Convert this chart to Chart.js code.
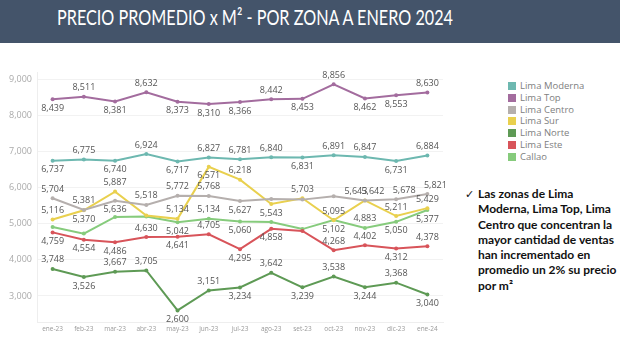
<!DOCTYPE html>
<html>
<head>
<meta charset="utf-8">
<script src="https://cdn.jsdelivr.net/npm/chart.js@4.4.1/dist/chart.umd.min.js"></script>
<style>
  html, body { margin: 0; padding: 0; background: #fff; width: 620px; height: 346px; overflow: hidden; }
  #bar { position: absolute; left: 0; top: 0; width: 620px; height: 43px; background: #44546A; }
  #title { position: absolute; left: 57px; top: 3px; color: #fff; transform-origin: 0 0;
           font-family: Lato, "Open Sans", sans-serif; font-size: 22px; white-space: nowrap; }
  #wrap { position: absolute; left: 0; top: 60px; width: 450px; height: 286px; }
  #legend { position: absolute; left: 508px; top: 80px; font-family: "Open Sans", sans-serif; font-size: 9.5px; color: #808080; }
  .li { height: 11.8px; line-height: 11.8px; white-space: nowrap; }
  .sw { display: inline-block; width: 8px; height: 8px; margin-right: 4px; vertical-align: -1px; }
  #note { position: absolute; left: 465px; top: 186px; width: 155px; font-family: Lato, sans-serif;
          font-weight: bold; font-size: 12px; line-height: 15.3px; color: #111; }
  #note .ck { position: absolute; left: 0; top: 0; font-weight: normal; font-size: 11px; }
  #note .tx { margin-left: 13px; }
</style>
</head>
<body>
<div id="bar"></div>
<div id="title">PRECIO PROMEDIO x M² - POR ZONA A ENERO 2024</div>
<div id="wrap"><canvas id="c"></canvas></div>
<div id="legend"></div>
<div id="note"><span class="ck">✓</span><div class="tx">Las zonas de Lima Moderna, Lima Top, Lima Centro que concentran la mayor cantidad de ventas han incrementado en promedio un 2% su precio por m²</div></div>
<script>
const months = ["ene-23","feb-23","mar-23","abr-23","may-23","jun-23","jul-23","ago-23","set-23","oct-23","nov-23","dic-23","ene-24"];
const yTicks = [3000, 4000, 5000, 6000, 7000, 8000, 9000];

const limaModerna = [6737, 6775, 6740, 6924, 6717, 6827, 6781, 6840, 6831, 6891, 6847, 6731, 6884];
const limaTop     = [8439, 8511, 8381, 8632, 8373, 8310, 8366, 8442, 8453, 8856, 8462, 8553, 8630];
const limaCentro  = [5704, 5381, 5636, 5518, 5772, 5768, 5627, 5680, 5665, 5760, 5643, 5678, 5821];
const limaSur     = [5116, 5370, 5887, 5225, 5134, 6571, 6218, 5543, 5703, 5095, 5642, 5211, 5429];
const limaNorte   = [3748, 3526, 3667, 3705, 2600, 3151, 3234, 3642, 3239, 3538, 3244, 3368, 3040];
const limaEste    = [4759, 4554, 4486, 4630, 4641, 4705, 4295, 4858, 4800, 4268, 4402, 4312, 4378];
const callao      = [4905, 4725, 5185, 5200, 5042, 5134, 5060, 5045, 4850, 5102, 4883, 5050, 5377];

const seriesNames = ["Lima Moderna","Lima Top","Lima Centro","Lima Sur","Lima Norte","Lima Este","Callao"];
const seriesData = [limaModerna, limaTop, limaCentro, limaSur, limaNorte, limaEste, callao];
const seriesColors = ["#6DB8B0","#A36C9E","#B5AFAD","#E9D04E","#5E9A55","#D8545A","#86CB7C"];

// label placement: a = above, b = below, al/ar = above shifted left/right, "" = no label
const labelSides = [
  ["b","a","b","a","b","a","a","a","b","a","a","b","a"],
  ["b","a","b","a","b","b","b","a","b","a","b","b","a"],
  ["a","a","b","a","a","a","b","","","","al","ar","ar"],
  ["a","b","a","","a","b","a","b","a","a","ar","a","a"],
  ["a","b","a","a","b","a","b","a","b","a","b","a","b"],
  ["b","b","b","a","b","a","b","b","","a","a","b","a"],
  ["","","","","b","a","b","","","b","a","b","b"]
];

// fit title to the reference width (condensed look)
(function () {
  const t = document.getElementById('title');
  const w = t.getBoundingClientRect().width;
  t.style.transform = 'scaleX(' + (396 / w) + ')';
})();

// legend
const lg = document.getElementById('legend');
seriesNames.forEach((n, i) => {
  const d = document.createElement('div'); d.className = 'li';
  d.innerHTML = '<span class="sw" style="background:' + seriesColors[i] + '"></span>' + n;
  lg.appendChild(d);
});

const fmt = v => v.toLocaleString('en-US');

const labelPlugin = {
  id: 'pointLabels',
  afterDatasetsDraw(chart) {
    const ctx = chart.ctx;
    ctx.save();
    ctx.font = '9px "Open Sans", sans-serif';
    ctx.fillStyle = '#555';
    ctx.textAlign = 'center';
    ctx.textBaseline = 'middle';
    chart.data.datasets.forEach((ds, di) => {
      const meta = chart.getDatasetMeta(di);
      meta.data.forEach((pt, i) => {
        const side = labelSides[di][i];
        if (!side) return;
        let x = pt.x, y = pt.y;
        if (side[0] === 'a') y -= 9; else y += 9;
        if (side === 'al') x -= 9;
        if (side === 'ar') x += 8;
        ctx.fillText(fmt(ds.data[i]), x, y);
      });
    });
    ctx.restore();
  }
};

new Chart(document.getElementById('c'), {
  type: 'line',
  data: {
    labels: months,
    datasets: seriesNames.map((n, i) => ({
      label: n,
      data: seriesData[i],
      borderColor: seriesColors[i],
      backgroundColor: seriesColors[i],
      borderWidth: 2,
      pointRadius: 2,
      pointBorderWidth: 0,
      tension: 0
    }))
  },
  options: {
    responsive: true,
    maintainAspectRatio: false,
    animation: false,
    layout: { padding: { top: 12, right: 7, bottom: 0, left: 0 } },
    plugins: { legend: { display: false }, tooltip: { enabled: false } },
    scales: {
      x: {
        offset: true,
        grid: { display: false, drawTicks: false },
        border: { color: '#eeeeee' },
        ticks: { color: '#999', font: { size: 6.5, family: '"Open Sans", sans-serif' }, padding: 3, maxRotation: 0, autoSkip: false },
        afterFit(s) { s.height = 24; }
      },
      y: {
        min: 2280,
        max: 9195,
        afterBuildTicks(s) { s.ticks = yTicks.map(v => ({ value: v })); },
        grid: { color: '#f2f2f2', drawTicks: false },
        border: { color: '#eeeeee' },
        ticks: { color: '#aaa', font: { size: 9, family: '"Open Sans", sans-serif' }, padding: 5, callback: v => fmt(v) },
        afterFit(s) { s.width = 37; }
      }
    }
  },
  plugins: [labelPlugin]
});
</script>
</body>
</html>
